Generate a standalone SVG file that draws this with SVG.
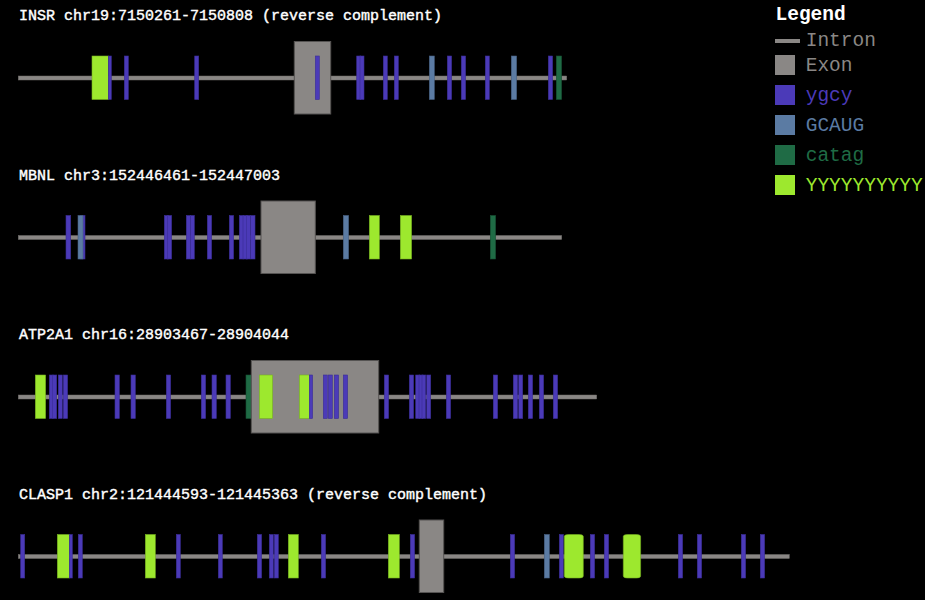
<svg xmlns="http://www.w3.org/2000/svg" width="925" height="600" viewBox="0 0 925 600">
<style>
.bg{fill:#000}
.title{font-family:"Liberation Mono","DejaVu Sans Mono",monospace;font-size:15px;fill:#ffffff;stroke:#ffffff;stroke-width:0.4}
.lt{font-family:"Liberation Mono","DejaVu Sans Mono",monospace;font-size:19.5px}
.intron{fill:#8a8785;stroke:#6f6c6a;stroke-width:0.5}
.exon{fill:#8a8785;stroke:#555352;stroke-width:1}
.ygcy{fill:#4b3ab8;stroke:#3b2d95;stroke-width:0.6}
.gcaug{fill:#5b7ba3;stroke:#465f80;stroke-width:0.6}
.catag{fill:#1f6b45;stroke:#174f33;stroke-width:0.6}
.yyy{fill:#9de82e;stroke:#76b020;stroke-width:0.6}
</style>
<rect class="bg" x="0" y="0" width="925" height="600"/>

<g id="track-insr" transform="translate(0,78)">
  <text class="title" x="19" y="-58">INSR chr19:7150261-7150808 (reverse complement)</text>
  <rect class="intron" x="18.3" y="-2" width="548.4" height="4"/>
  <rect class="exon" x="294.3" y="-36.5" width="36.4" height="72.5"/>
  <g class="f">
    <rect class="yyy" x="92" y="-22" width="16.3" height="43.5"/>
    <rect class="ygcy" x="108.3" y="-22" width="3" height="43.5"/>
    <rect class="ygcy" x="124.3" y="-22" width="4" height="43.5"/>
    <rect class="ygcy" x="194.7" y="-22" width="4" height="43.5"/>
    <rect class="ygcy" x="315.3" y="-22" width="4" height="43.5"/>
    <rect class="ygcy" x="356.7" y="-22" width="4" height="43.5"/>
    <rect class="ygcy" x="360" y="-22" width="4" height="43.5"/>
    <rect class="ygcy" x="383.3" y="-22" width="4" height="43.5"/>
    <rect class="ygcy" x="394.3" y="-22" width="4" height="43.5"/>
    <rect class="gcaug" x="429.3" y="-22" width="5" height="43.5"/>
    <rect class="ygcy" x="447.3" y="-22" width="4.3" height="43.5"/>
    <rect class="ygcy" x="461.3" y="-22" width="4.3" height="43.5"/>
    <rect class="ygcy" x="485.3" y="-22" width="4" height="43.5"/>
    <rect class="gcaug" x="511.3" y="-22" width="5.3" height="43.5"/>
    <rect class="ygcy" x="548.3" y="-22" width="4.3" height="43.5"/>
    <rect class="catag" x="556.3" y="-22" width="5.3" height="43.5"/>
  </g>
</g>

<g id="track-mbnl" transform="translate(0,237.5)">
  <text class="title" x="19" y="-58">MBNL chr3:152446461-152447003</text>
  <rect class="intron" x="18.3" y="-2" width="543.4" height="4"/>
  <rect class="exon" x="261" y="-36.5" width="54.3" height="72.5"/>
  <g class="f">
    <rect class="ygcy" x="66" y="-22" width="4.7" height="43.5"/>
    <rect class="ygcy" x="80" y="-22" width="5" height="43.5"/>
    <rect class="gcaug" x="78" y="-22" width="5" height="43.5"/>
    <rect class="ygcy" x="164.3" y="-22" width="4.3" height="43.5"/>
    <rect class="ygcy" x="167.3" y="-22" width="4.3" height="43.5"/>
    <rect class="ygcy" x="186.3" y="-22" width="4" height="43.5"/>
    <rect class="ygcy" x="190.3" y="-22" width="4" height="43.5"/>
    <rect class="ygcy" x="207.3" y="-22" width="4.3" height="43.5"/>
    <rect class="ygcy" x="229.3" y="-22" width="4.3" height="43.5"/>
    <rect class="ygcy" x="239.3" y="-22" width="4" height="43.5"/>
    <rect class="ygcy" x="243" y="-22" width="4.3" height="43.5"/>
    <rect class="ygcy" x="246.5" y="-22" width="4" height="43.5"/>
    <rect class="ygcy" x="250.7" y="-22" width="4.3" height="43.5"/>
    <rect class="gcaug" x="343.3" y="-22" width="5.3" height="43.5"/>
    <rect class="yyy" x="369.3" y="-22" width="10" height="43.5"/>
    <rect class="yyy" x="400.3" y="-22" width="11.3" height="43.5"/>
    <rect class="catag" x="490.3" y="-22" width="5.3" height="43.5"/>
  </g>
</g>

<g id="track-atp2a1" transform="translate(0,397)">
  <text class="title" x="19" y="-58">ATP2A1 chr16:28903467-28904044</text>
  <rect class="intron" x="18.3" y="-2" width="578.4" height="4"/>
  <rect class="catag" x="246" y="-22" width="5.7" height="43.5"/>
  <rect class="exon" x="251.3" y="-36.5" width="127.4" height="72.5"/>
  <g class="f">
    <rect class="yyy" x="35.3" y="-22" width="10.3" height="43.5"/>
    <rect class="ygcy" x="49.3" y="-22" width="4" height="43.5"/>
    <rect class="ygcy" x="52.7" y="-22" width="4" height="43.5"/>
    <rect class="ygcy" x="58.3" y="-22" width="4" height="43.5"/>
    <rect class="ygcy" x="63.3" y="-22" width="4.3" height="43.5"/>
    <rect class="ygcy" x="115" y="-22" width="4.3" height="43.5"/>
    <rect class="ygcy" x="131" y="-22" width="4.3" height="43.5"/>
    <rect class="ygcy" x="166.3" y="-22" width="4.3" height="43.5"/>
    <rect class="ygcy" x="201.3" y="-22" width="4.3" height="43.5"/>
    <rect class="ygcy" x="212" y="-22" width="4.3" height="43.5"/>
    <rect class="ygcy" x="226" y="-22" width="4.3" height="43.5"/>
    <rect class="yyy" x="259.3" y="-22" width="13.3" height="43.5"/>
    <rect class="yyy" x="299.3" y="-22" width="10" height="43.5"/>
    <rect class="ygcy" x="309.3" y="-22" width="3.3" height="43.5"/>
    <rect class="ygcy" x="323.3" y="-22" width="4" height="43.5"/>
    <rect class="ygcy" x="328.3" y="-22" width="4" height="43.5"/>
    <rect class="ygcy" x="334.3" y="-22" width="4.3" height="43.5"/>
    <rect class="ygcy" x="343.3" y="-22" width="4.3" height="43.5"/>
    <rect class="ygcy" x="384.3" y="-22" width="4.3" height="43.5"/>
    <rect class="ygcy" x="409.3" y="-22" width="4.3" height="43.5"/>
    <rect class="ygcy" x="415.7" y="-22" width="4" height="43.5"/>
    <rect class="ygcy" x="419" y="-22" width="4" height="43.5"/>
    <rect class="ygcy" x="422" y="-22" width="3.7" height="43.5"/>
    <rect class="ygcy" x="426.7" y="-22" width="4" height="43.5"/>
    <rect class="ygcy" x="446.3" y="-22" width="4.3" height="43.5"/>
    <rect class="ygcy" x="493.3" y="-22" width="4.3" height="43.5"/>
    <rect class="ygcy" x="513.3" y="-22" width="4.3" height="43.5"/>
    <rect class="ygcy" x="518.7" y="-22" width="4" height="43.5"/>
    <rect class="ygcy" x="528.3" y="-22" width="4.3" height="43.5"/>
    <rect class="ygcy" x="539.3" y="-22" width="4.3" height="43.5"/>
    <rect class="ygcy" x="553.3" y="-22" width="4.3" height="43.5"/>
  </g>
</g>

<g id="track-clasp1" transform="translate(0,556.5)">
  <text class="title" x="19" y="-58">CLASP1 chr2:121444593-121445363 (reverse complement)</text>
  <rect class="intron" x="18.3" y="-2" width="771" height="4"/>
  <rect class="exon" x="419.3" y="-36.5" width="24.4" height="72.5"/>
  <g class="f">
    <rect class="ygcy" x="20.7" y="-22" width="4" height="43.5"/>
    <rect class="yyy" x="57.3" y="-22" width="12" height="43.5"/>
    <rect class="ygcy" x="69.3" y="-22" width="3" height="43.5"/>
    <rect class="ygcy" x="78.3" y="-22" width="4" height="43.5"/>
    <rect class="yyy" x="145.3" y="-22" width="10" height="43.5"/>
    <rect class="ygcy" x="176.3" y="-22" width="4" height="43.5"/>
    <rect class="ygcy" x="218.3" y="-22" width="4" height="43.5"/>
    <rect class="ygcy" x="257.3" y="-22" width="4.3" height="43.5"/>
    <rect class="ygcy" x="269.3" y="-22" width="4" height="43.5"/>
    <rect class="ygcy" x="274.3" y="-22" width="4" height="43.5"/>
    <rect class="yyy" x="288.3" y="-22" width="10" height="43.5"/>
    <rect class="ygcy" x="321.3" y="-22" width="4.3" height="43.5"/>
    <rect class="yyy" x="388.3" y="-22" width="11" height="43.5"/>
    <rect class="ygcy" x="410.3" y="-22" width="4.3" height="43.5"/>
    <rect class="ygcy" x="510.3" y="-22" width="4.3" height="43.5"/>
    <rect class="gcaug" x="544.3" y="-22" width="5" height="43.5"/>
    <rect class="ygcy" x="559.3" y="-22" width="4" height="43.5"/>
    <rect class="yyy" x="564.3" y="-22" width="19" height="43.5" rx="4" ry="2"/>
    <rect class="ygcy" x="590.3" y="-22" width="4.3" height="43.5"/>
    <rect class="ygcy" x="604.3" y="-22" width="4.3" height="43.5"/>
    <rect class="yyy" x="623.3" y="-22" width="17.3" height="43.5" rx="4" ry="2"/>
    <rect class="ygcy" x="678.3" y="-22" width="4.3" height="43.5"/>
    <rect class="ygcy" x="697.3" y="-22" width="4.3" height="43.5"/>
    <rect class="ygcy" x="741.3" y="-22" width="4.3" height="43.5"/>
    <rect class="ygcy" x="760.3" y="-22" width="4.3" height="43.5"/>
  </g>
</g>

<g id="legend">
  <text x="775.5" y="20" font-family="Liberation Mono, DejaVu Sans Mono, monospace" font-size="19.5" font-weight="bold" fill="#ffffff">Legend</text>
  <rect x="775" y="39" width="25" height="4" fill="#8a8785"/>
  <text class="lt" x="805.7" y="45.5" fill="#8a8785">Intron</text>
  <rect x="775" y="55" width="20" height="20" fill="#8a8785"/>
  <text class="lt" x="805.7" y="70.5" fill="#8a8785">Exon</text>
  <rect x="775" y="85" width="20" height="20" fill="#4b3ab8"/>
  <text class="lt" x="805.7" y="100.5" fill="#4b3ab8">ygcy</text>
  <rect x="775" y="115" width="20" height="20" fill="#5b7ba3"/>
  <text class="lt" x="805.7" y="130.5" fill="#5b7ba3">GCAUG</text>
  <rect x="775" y="145" width="20" height="20" fill="#1f6b45"/>
  <text class="lt" x="805.7" y="160.5" fill="#1f6b45">catag</text>
  <rect x="775" y="175" width="20" height="20" fill="#9de82e"/>
  <text class="lt" x="805.7" y="190.5" fill="#9de82e">YYYYYYYYYY</text>
</g>
</svg>
